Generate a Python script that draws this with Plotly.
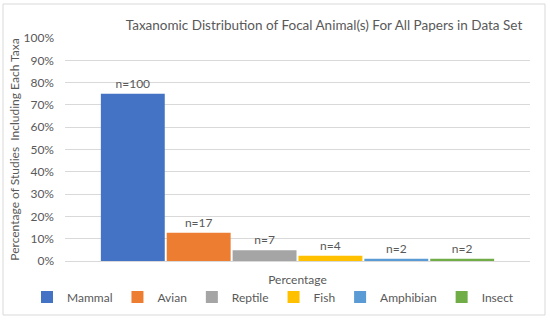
import plotly.graph_objects as go

taxa = ["Mammal", "Avian", "Reptile", "Fish", "Amphibian", "Insect"]
percentages = [0.750, 0.127, 0.048, 0.024, 0.010, 0.010]
counts = [100, 17, 7, 4, 2, 2]
colors = ["#4472C4", "#ED7D31", "#A5A5A5", "#FFC000", "#5B9BD5", "#70AD47"]
category = ["Percentage"]
y_ticks = [0, 0.1, 0.2, 0.3, 0.4, 0.5, 0.6, 0.7, 0.8, 0.9, 1.0]

FONT = "Lato"
GREY = "#595959"

fig = go.Figure()
for name, pct, n, col in zip(taxa, percentages, counts, colors):
    fig.add_trace(go.Bar(
        x=category, y=[pct], name=name, marker_color=col,
        marker_line_width=0,
        text=[f"n={n}"], textposition="outside",
        textfont=dict(size=12, color=GREY, family=FONT),
        cliponaxis=False,
    ))

fig.update_layout(
    width=550, height=322,
    margin=dict(l=65, r=20, t=38, b=61, autoexpand=False),
    paper_bgcolor="white", plot_bgcolor="white",
    font=dict(family=FONT, color=GREY, size=12),
    barmode="group", bargap=0.15, bargroupgap=0.03,
    title=dict(text="Taxanomic Distribution of Focal Animal(s) For All Papers in Data Set",
               x=324/550, xanchor="center", y=1 - 25/322, yanchor="middle",
               font=dict(size=13.5, color=GREY, family=FONT)),
    legend=dict(orientation="h", x=(27 - 65) / 465, xanchor="left",
                y=(261 - 297) / 223, yanchor="middle",
                font=dict(size=12, color=GREY, family=FONT),
                traceorder="normal", itemwidth=30),
    showlegend=True,
)
fig.update_yaxes(range=[0, 1], tickvals=y_ticks, tickformat=".0%",
                 showgrid=True, gridcolor="#D9D9D9", gridwidth=1,
                 zeroline=False, showline=False, ticks="",
                 ticklabelstandoff=10, automargin=False,
                 tickfont=dict(size=12, color=GREY),
                 title=dict(text="Percentage of Studies  Including Each Taxa",
                            font=dict(size=12, color=GREY), standoff=1))
fig.update_xaxes(showticklabels=False, showline=True, linecolor="#D9D9D9",
                 linewidth=1, ticks="", showgrid=False, automargin=False,
                 title=dict(text="Percentage", font=dict(size=12, color=GREY), standoff=14))

fig.add_shape(type="rect", xref="paper", yref="paper",
              x0=(3 - 65) / 465, x1=(545 - 65) / 465,
              y0=(261 - 315) / 223, y1=(261 - 4) / 223,
              line=dict(color="#D9D9D9", width=1), fillcolor="rgba(0,0,0,0)",
              layer="below")

fig.write_html("out.html", config={"displayModeBar": False},
               post_script="document.body.style.margin='0';")
